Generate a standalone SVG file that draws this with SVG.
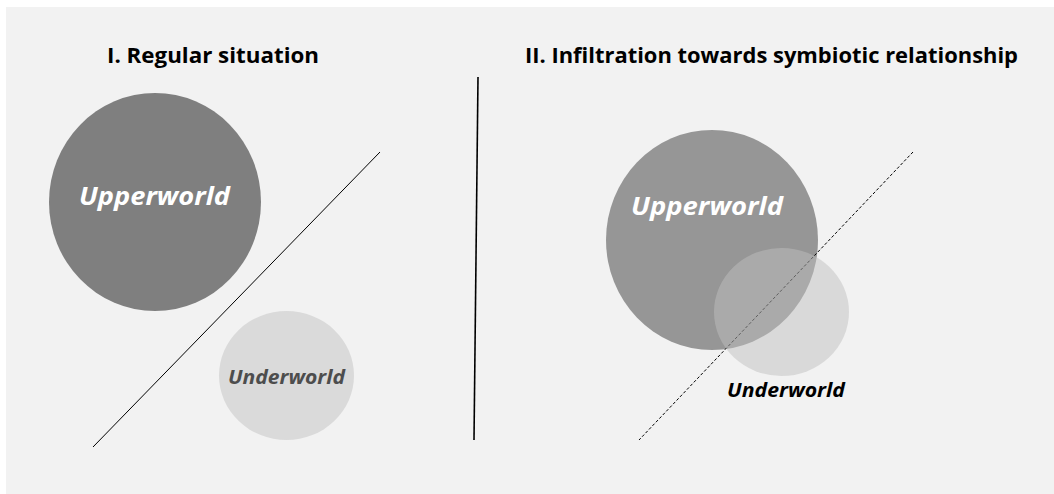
<svg xmlns="http://www.w3.org/2000/svg" width="1054" height="494" viewBox="0 0 1054 494">
<style>
.title{font-family:"Open Sans","Liberation Sans",Arial,sans-serif;font-weight:bold;font-size:21px;fill:#000}
.lbl{font-family:"Open Sans","Liberation Sans",Arial,sans-serif;font-weight:bold;font-style:italic}
</style>
<rect x="0" y="0" width="1054" height="494" fill="#ffffff"/>
<rect x="6" y="7" width="1048" height="487" fill="#f2f2f2"/>
<text class="title" x="107" y="63" textLength="212" lengthAdjust="spacingAndGlyphs">I. Regular situation</text>
<text class="title" x="525" y="63" textLength="493" lengthAdjust="spacingAndGlyphs">II. Infiltration towards symbiotic relationship</text>
<g id="upperworld1">
<ellipse cx="155" cy="202" rx="106" ry="109" fill="#7f7f7f"/>
<text class="lbl" x="79" y="205" font-size="25" fill="#ffffff" textLength="151" lengthAdjust="spacingAndGlyphs">Upperworld</text>
</g>
<g id="underworld1">
<ellipse cx="286.5" cy="375.5" rx="67.5" ry="64.5" fill="#dadada"/>
<text class="lbl" x="228" y="384" font-size="20" fill="#4d4d4d" textLength="117" lengthAdjust="spacingAndGlyphs">Underworld</text>
</g>
<g id="upperworld2">
<ellipse cx="712" cy="240" rx="106" ry="110" fill="#969696"/>
<text class="lbl" x="631" y="215" font-size="25" fill="#ffffff" textLength="152" lengthAdjust="spacingAndGlyphs">Upperworld</text>
</g>
<g id="connectors">
<line x1="380" y1="152" x2="93" y2="447" stroke="#000" stroke-width="1"/>
<line x1="478" y1="77" x2="474" y2="440" stroke="#000" stroke-width="1.6"/>
<line x1="913" y1="152" x2="639" y2="440" stroke="#000" stroke-width="1" stroke-dasharray="3,2"/>
</g>
<g id="underworld2">
<ellipse cx="781.5" cy="312" rx="67.5" ry="64" fill="#bfbfbf" fill-opacity="0.49"/>
<text class="lbl" x="727" y="397" font-size="20" fill="#000000" textLength="118" lengthAdjust="spacingAndGlyphs">Underworld</text>
</g>
</svg>
